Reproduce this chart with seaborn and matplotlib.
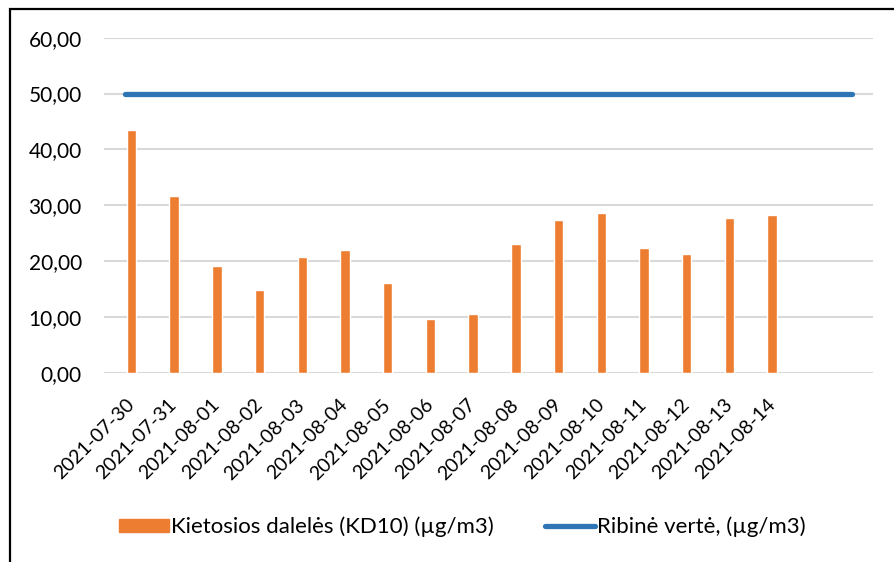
import matplotlib
matplotlib.use("Agg")
import matplotlib.pyplot as plt
import matplotlib.patches as mpatches
import matplotlib.transforms as mtransforms
import pandas as pd
import seaborn as sns

# data
dates = ["2021-07-30", "2021-07-31", "2021-08-01", "2021-08-02", "2021-08-03",
         "2021-08-04", "2021-08-05", "2021-08-06", "2021-08-07", "2021-08-08",
         "2021-08-09", "2021-08-10", "2021-08-11", "2021-08-12", "2021-08-13",
         "2021-08-14"]
kd10 = [43.5, 31.7, 19.2, 14.9, 20.8, 22.0, 16.1, 9.6, 10.6, 23.1,
        27.3, 28.6, 22.4, 21.3, 27.8, 28.2]
# two empty category slots follow the last date; the limit line spans them too
extra_slots = ["", " "]
limit = 50.0

bar_label = "Kietosios dalelės (KD10) (µg/m3)"
line_label = "Ribinė vertė, (µg/m3)"
ORANGE = "#ED7D31"
BLUE = "#2E75B6"
GRID = "#D9D9D9"

cats = dates + extra_slots
bars = pd.DataFrame({"date": pd.Categorical(dates, categories=cats, ordered=True),
                     "value": kd10})
line = pd.DataFrame({"pos": range(len(cats)), "value": [limit] * len(cats)})

sns.set_theme(style="white")
plt.rcParams["font.family"] = ["Lato", "DejaVu Sans"]

fig = plt.figure(figsize=(8.94, 5.62), dpi=100)
ax = fig.add_axes([104 / 894, 1 - 373 / 562, (873 - 104) / 894, (373 - 37.7) / 562])

sns.barplot(data=bars, x="date", y="value", order=cats, color=ORANGE,
            width=0.22, saturation=1, ax=ax, zorder=3)
sns.lineplot(data=line, x="pos", y="value", color=BLUE, lw=3.8,
             solid_capstyle="round", ax=ax, zorder=4)

# Excel draws the columns a little right of the category centre (~6 px)
shift = mtransforms.ScaledTranslation(6 / 100, 0, fig.dpi_scale_trans)
for p in ax.patches:
    p.set_transform(ax.transData + shift)

ax.set_xlim(-0.5, len(cats) - 0.5)
ax.set_ylim(0, 60)
ax.set_yticks(range(0, 61, 10))
ax.set_yticklabels([f"{v},00" for v in range(0, 61, 10)], fontsize=15, color="black")
ax.set_xticks([i + 0.14 for i in range(len(dates))])
ax.set_xticklabels(dates, fontsize=14, rotation=45, ha="right", va="center",
                   rotation_mode="anchor", color="black")
ax.tick_params(axis="x", length=0, pad=21)
ax.tick_params(axis="y", length=0, pad=16)
ax.grid(axis="y", color=GRID, lw=1.5, zorder=0)
ax.grid(axis="x", visible=False)
ax.set_axisbelow(True)
for s in ax.spines.values():
    s.set_visible(False)
ax.set_xlabel("")
ax.set_ylabel("")

handles = [mpatches.Patch(color=ORANGE, label=bar_label),
           plt.Line2D([], [], color=BLUE, lw=3.8, solid_capstyle="round", label=line_label)]
leg = fig.legend(handles=handles, loc="center", bbox_to_anchor=(462 / 894, 1 - 527 / 562),
                 ncol=2, frameon=False, fontsize=16, handlelength=2.25, handleheight=0.55,
                 handletextpad=0.1, columnspacing=2.3)
for t in leg.get_texts():
    t.set_color("black")

# outer chart frame (left and top edges visible)
fig.patches.append(mpatches.Rectangle((10 / 894, -0.1), 1.0, 1 - 9 / 562 + 0.1,
                                      transform=fig.transFigure, fill=False,
                                      edgecolor="black", lw=1.6))

fig.savefig("out.png", dpi=100)
